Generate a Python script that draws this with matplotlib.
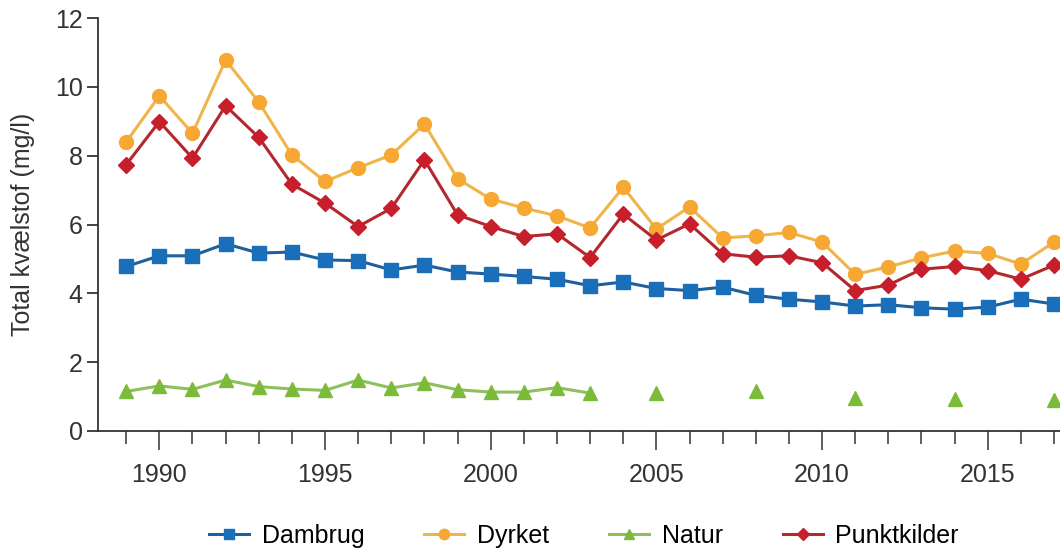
import numpy as np
import matplotlib.pyplot as plt
from matplotlib.ticker import MultipleLocator

plt.rcParams['font.family'] = ['Liberation Sans', 'DejaVu Sans']

years = np.arange(1989, 2018)

dambrug = [4.78, 5.09, 5.09, 5.44, 5.17, 5.20, 4.97, 4.95, 4.68, 4.82,
           4.62, 4.56, 4.49, 4.41, 4.22, 4.33, 4.14, 4.08, 4.18, 3.94,
           3.83, 3.75, 3.63, 3.67, 3.58, 3.54, 3.60, 3.83, 3.69]

dyrket = [8.40, 9.74, 8.65, 10.78, 9.56, 8.02, 7.25, 7.65, 8.02, 8.92,
          7.33, 6.74, 6.48, 6.25, 5.90, 7.08, 5.87, 6.51, 5.61, 5.67,
          5.77, 5.49, 4.55, 4.77, 5.03, 5.23, 5.16, 4.85, 5.49]

nan = np.nan
natur = [1.15, 1.31, 1.21, 1.48, 1.29, 1.22, 1.18, 1.48, 1.25, 1.40,
         1.20, 1.13, 1.13, 1.26, 1.10, nan, 1.10, nan, nan, 1.15,
         nan, nan, 0.96, nan, nan, 0.92, nan, nan, 0.91]

punktkilder = [7.74, 8.99, 7.93, 9.45, 8.53, 7.17, 6.62, 5.94, 6.47, 7.88,
               6.28, 5.94, 5.65, 5.73, 5.04, 6.30, 5.55, 6.02, 5.15, 5.05,
               5.09, 4.89, 4.08, 4.24, 4.70, 4.78, 4.66, 4.41, 4.82]

series = [
    ('Dambrug', dambrug, '#1a6fba', '#1f5f9e', 's', 9.5),
    ('Dyrket', dyrket, '#f6a833', '#efb54a', 'o', 10),
    ('Natur', natur, '#7cbb3a', '#8cc05a', '^', 10),
    ('Punktkilder', punktkilder, '#c61f2b', '#b3282f', 'D', 8.5),
]

fig = plt.figure(figsize=(10.6, 5.51), dpi=100)
ax = fig.add_axes([0.0925, 0.2178, 0.9075, 0.7495])

for name, vals, mcol, lcol, mk, ms in series:
    ax.plot(years, vals, color=lcol, lw=2.2, marker=mk, ms=ms,
            mfc=mcol, mec=mcol, label=name)

ax.set_xlim(1988.15, 2017.18)
ax.set_ylim(0, 12)
ax.yaxis.set_major_locator(MultipleLocator(2))
ax.xaxis.set_major_locator(MultipleLocator(5))
ax.xaxis.set_minor_locator(MultipleLocator(1))

for s in ['top', 'right']:
    ax.spines[s].set_visible(False)
for s in ['left', 'bottom']:
    ax.spines[s].set_color('#333333')
    ax.spines[s].set_linewidth(1.3)

ax.tick_params(axis='y', length=8, width=1.3, color='#333333',
               labelsize=18, labelcolor='#333333', pad=3)
ax.tick_params(axis='x', which='major', length=14, width=1.1, color='#333333',
               labelsize=18, labelcolor='#333333', pad=9)
ax.tick_params(axis='x', which='minor', length=9, width=1.1, color='#333333')

ax.set_ylabel('Total kvælstof (mg/l)', fontsize=18, color='#333333', labelpad=14)

fig.legend(loc='center', bbox_to_anchor=(0.551, 0.027), ncol=4, frameon=False,
           fontsize=18, handlelength=1.6, columnspacing=2.4, handletextpad=0.5,
           markerscale=0.75)

fig.savefig('out.png', dpi=100)
